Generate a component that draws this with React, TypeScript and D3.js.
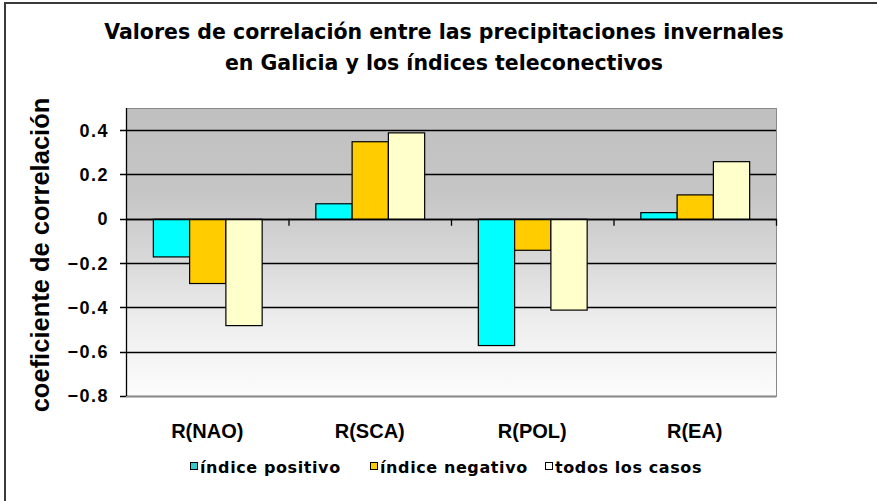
import React from 'react';
import * as d3 from 'd3';

// data
const categories = ['R(NAO)', 'R(SCA)', 'R(POL)', 'R(EA)'];
const seriesNames = ['índice positivo', 'índice negativo', 'todos los casos'];
const positivo = [-0.17, 0.07, -0.57, 0.03];
const negativo = [-0.29, 0.35, -0.14, 0.11];
const todos = [-0.48, 0.39, -0.41, 0.26];
const yTicks = [0.4, 0.2, 0, -0.2, -0.4, -0.6, -0.8];
const colors = ['#00ffff', '#ffcc00', '#ffffcc'];
const legendColors = ['#33cccc', '#ffcc00', '#ffffff'];

const width = 877;
const height = 501;
const plot = { left: 126, right: 776, top: 108, bottom: 396 };

const App = () => {
    const series = [positivo, negativo, todos];

    const y = d3.scaleLinear()
        .domain([-0.8, 0.5])
        .range([plot.bottom, plot.top]);

    const x0 = d3.scaleBand()
        .domain(categories)
        .range([plot.left, plot.right])
        .paddingInner(0)
        .paddingOuter(0);

    // bars fill about two thirds of each category slot
    const x1 = d3.scaleBand()
        .domain(seriesNames)
        .range([0, x0.bandwidth()])
        .paddingOuter(0.74)
        .paddingInner(0);

    const fmt = (v: number) => (v === 0 ? '0' : d3.format('.1f')(v));
    const legendX = [190, 370, 545];

    return (
        <svg width={width} height={height}
            style={{ position: 'absolute', left: 0, top: 0, background: '#fff' }}>
            <defs>
                <linearGradient id="bg" x1="0" y1="0" x2="0" y2="1">
                    <stop offset="0" stopColor="#c0c0c0" />
                    <stop offset="0.3" stopColor="#c6c6c6" />
                    <stop offset="0.5" stopColor="#d6d6d6" />
                    <stop offset="0.75" stopColor="#eeeeee" />
                    <stop offset="1" stopColor="#fcfcfc" />
                </linearGradient>
            </defs>

            {/* chart area border, cut off at right and bottom */}
            <path d={`M5,${height} V3 H${width}`} fill="none" stroke="#3a3a3a" strokeWidth={2} />

            {/* title */}
            <g fontFamily="DejaVu Sans" fontWeight="bold" fontSize={20.5} textAnchor="middle" fill="#000">
                <text x={444} y={39}>Valores de correlación entre las precipitaciones invernales</text>
                <text x={444} y={70}>en Galicia y los índices teleconectivos</text>
            </g>

            {/* plot area */}
            <rect x={plot.left} y={plot.top} width={plot.right - plot.left}
                height={plot.bottom - plot.top} fill="url(#bg)" />

            {/* gridlines and y ticks */}
            <g stroke="#000" strokeWidth={1.3}>
                {yTicks.map(t => (
                    <line key={t} x1={plot.left - 6} x2={plot.right}
                        y1={Math.round(y(t)) + 0.5} y2={Math.round(y(t)) + 0.5} />
                ))}
            </g>

            <rect x={plot.left + 0.5} y={plot.top + 0.5} width={plot.right - plot.left}
                height={plot.bottom - plot.top} fill="none" stroke="#8a8a8a" strokeWidth={1} />
            <line x1={plot.left + 0.5} x2={plot.left + 0.5} y1={plot.top} y2={plot.bottom}
                stroke="#000" strokeWidth={1.3} />

            {/* bars */}
            {categories.map((c, i) => (
                <g key={c} transform={`translate(${x0(c)},0)`}>
                    {series.map((s, j) => {
                        const v = s[i];
                        const y0 = y(0);
                        const yv = y(v);
                        return (
                            <rect key={j}
                                x={x1(seriesNames[j])! + 0.5}
                                y={Math.min(y0, yv) + 0.5}
                                width={x1.bandwidth()}
                                height={Math.abs(yv - y0)}
                                fill={colors[j]}
                                stroke="#000"
                                strokeWidth={1.2} />
                        );
                    })}
                </g>
            ))}

            {/* category axis at zero with tick marks between categories */}
            <g stroke="#000" strokeWidth={1.3}>
                <line x1={plot.left} x2={plot.right} y1={Math.round(y(0)) + 0.5} y2={Math.round(y(0)) + 0.5} />
                {categories.map(c => (
                    <line key={c} x1={x0(c)! + x0.bandwidth() + 0.5} x2={x0(c)! + x0.bandwidth() + 0.5}
                        y1={y(0)} y2={y(0) + 7} />
                ))}
            </g>

            {/* y tick labels */}
            <g fontFamily="Liberation Sans" fontWeight="bold" fontSize={18} letterSpacing={1.5}
                textAnchor="end" fill="#000">
                {yTicks.map(t => (
                    <text key={t} x={109} y={y(t)} dy="0.36em">{fmt(t)}</text>
                ))}
            </g>

            {/* y axis title */}
            <text transform={`translate(49,${(plot.top + plot.bottom) / 2 + 3}) rotate(-90)`}
                fontFamily="Liberation Sans" fontWeight="bold" fontSize={25.5}
                textAnchor="middle" fill="#000">coeficiente de correlación</text>

            {/* category labels */}
            <g fontFamily="Liberation Sans" fontWeight="bold" fontSize={20} textAnchor="middle" fill="#000">
                {categories.map(c => (
                    <text key={c} x={x0(c)! + x0.bandwidth() / 2} y={438}>{c}</text>
                ))}
            </g>

            {/* legend */}
            <g fontFamily="DejaVu Sans" fontWeight="bold" fontSize={16} letterSpacing={0.6} fill="#000">
                {seriesNames.map((n, j) => (
                    <g key={n} transform={`translate(${legendX[j]},467)`}>
                        <rect x={0.5} y={-4.5} width={7} height={7} fill={legendColors[j]} stroke="#000" strokeWidth={1} />
                        <text x={10} y={0} dy="0.36em">{n}</text>
                    </g>
                ))}
            </g>
        </svg>
    );
};

export default App;
